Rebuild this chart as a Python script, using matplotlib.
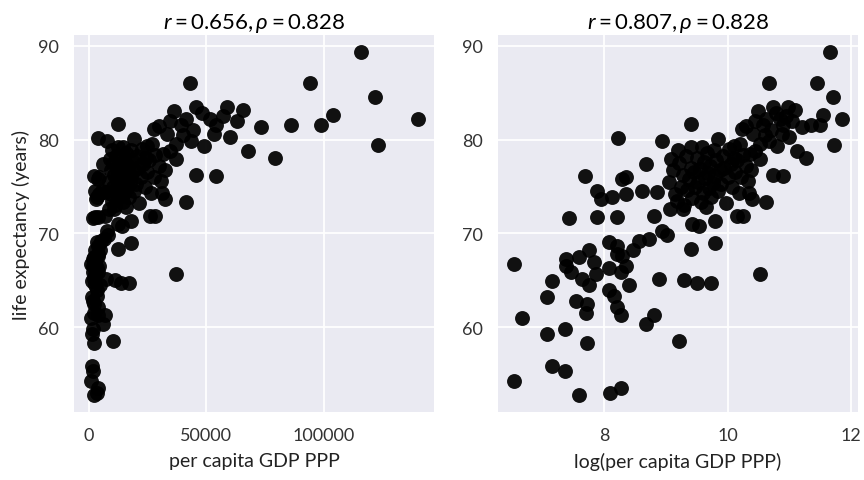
import matplotlib
matplotlib.use("Agg")
import matplotlib.pyplot as plt
import numpy as np

plt.rcParams['font.family'] = ['Lato', 'DejaVu Sans']
plt.rcParams['mathtext.fontset'] = 'custom'
plt.rcParams['mathtext.rm'] = 'Lato'
plt.rcParams['mathtext.it'] = 'Lato:italic'

# log of per capita GDP PPP
log_gdp = [
    8.23, 9.41, 8.94, 8.68, 9.85, 9.41, 10.23, 10.11, 11.66, 10.67,
    11.45, 11.71, 11.85, 11.55, 11.72, 11.28, 11.12, 10.80, 11.00, 11.20,
    11.36, 11.50, 10.50, 10.73, 10.98, 11.09, 10.63, 10.85, 10.30, 10.41,
    10.52, 10.36, 10.52, 10.73, 10.90, 10.63, 10.39, 10.25, 10.52,
    10.70, 10.90, 10.60, 10.78, 10.95, 10.45, 10.88, 10.68, 11.05, 10.58,
    10.35,
    7.69, 7.89, 7.95, 8.13, 8.29, 7.43, 7.89, 8.20, 6.54, 8.08,
    8.20, 8.21, 7.76, 7.59, 7.38, 7.38, 7.84, 7.87, 8.08, 7.15,
    7.46, 7.64, 8.28, 7.07, 6.67, 7.54, 7.72, 7.71, 7.76, 8.08,
    8.16, 8.21, 8.28, 7.07, 7.37, 7.72, 7.15, 7.37, 6.54, 7.59,
    8.10, 8.28, 8.41, 8.89, 9.30, 9.51, 9.74, 8.68, 8.81, 9.22,
    8.36, 8.36, 8.62, 8.85, 8.81, 9.06, 9.27, 9.43, 9.54, 9.79,
    10.16, 8.94, 9.02, 8.73, 8.57, 8.46, 8.29, 9.41, 9.80, 8.36,
    9.05, 9.12, 9.15, 9.18, 9.22, 9.25, 9.28, 9.30, 9.33, 9.35,
    9.38, 9.40, 9.42, 9.45, 9.47, 9.50, 9.52, 9.55, 9.57, 9.60,
    9.62, 9.64, 9.66, 9.68, 9.70, 9.72, 9.74, 9.76, 9.78, 9.80,
    9.82, 9.85, 9.87, 9.90, 9.92, 9.95, 9.97, 10.00, 10.02, 10.05,
    10.08, 10.10, 10.12, 10.15, 10.18, 10.20, 10.22, 10.25, 10.30, 10.33,
    10.38, 10.45, 9.58, 9.20, 9.08, 9.65,
]

life_exp = [
    80.2, 81.7, 79.9, 77.4, 80.1, 79.2, 81.1, 79.3, 89.3, 86.0,
    86.0, 84.5, 82.2, 82.6, 79.4, 78.0, 78.8, 79.3, 80.3, 81.3,
    81.6, 81.6, 83.0, 83.5, 83.5, 83.2, 82.2, 82.2, 81.4, 80.6,
    79.5, 78.5, 77.9, 76.2, 76.1, 73.4, 73.7, 71.9, 65.7,
    81.0, 81.5, 80.5, 82.8, 82.5, 82.0, 80.6, 79.8, 82.0, 81.6,
    74.3,
    76.1, 74.5, 73.7, 73.9, 75.8, 71.6, 71.8, 71.8, 66.7, 69.1,
    68.7, 67.8, 68.2, 67.5, 67.3, 66.5, 67.0, 65.7, 66.3, 64.9,
    65.9, 65.2, 65.9, 63.2, 61.0, 62.8, 62.5, 61.5, 64.5, 64.0,
    63.3, 62.2, 61.3, 59.3, 59.8, 58.3, 55.9, 55.4, 54.3, 52.8,
    53.0, 53.6, 64.5, 65.2, 65.0, 64.7, 64.7, 60.4, 61.3, 58.6,
    76.0, 74.2, 74.5, 74.4, 71.9, 72.6, 72.6, 71.0, 70.8, 71.3,
    71.9, 70.3, 69.8, 69.4, 69.2, 68.2, 67.6, 68.4, 69.0, 66.5,
    75.5, 76.8, 74.2, 73.5, 77.5, 75.0, 76.2, 73.0, 78.2, 74.6,
    75.8, 77.0, 73.8, 76.5, 74.9, 78.0, 75.5, 76.9, 73.4, 74.3,
    77.6, 75.9, 78.6, 76.4, 74.8, 77.2, 73.9, 75.4, 78.9, 76.1,
    77.8, 74.5, 76.8, 75.3, 78.3, 77.0, 73.2, 76.0, 79.0, 77.4,
    75.0, 78.0, 76.5, 77.8, 74.3, 79.5, 76.0, 78.4, 77.2, 75.6,
    76.8, 78.8, 79.2, 78.9, 77.9, 72.8,
]

titles = [r"$r = 0.656, \rho = 0.828$", r"$r = 0.807, \rho = 0.828$"]
xlabels = ["per capita GDP PPP", "log(per capita GDP PPP)"]

gdp = np.exp(np.array(log_gdp))
xs = [gdp, np.array(log_gdp)]

fig, axes = plt.subplots(1, 2, figsize=(8.64, 4.81), dpi=100)
fig.subplots_adjust(left=0.086, right=0.993, bottom=0.141, top=0.925, wspace=0.176)

for ax, x, title, xlabel in zip(axes, xs, titles, xlabels):
    ax.set_facecolor('#eaeaf2')
    for s in ax.spines.values():
        s.set_visible(False)
    ax.grid(True, color='white', linewidth=1.3)
    ax.set_axisbelow(True)
    ax.scatter(x, life_exp, s=115, color='black', alpha=0.93, linewidths=0)
    ax.set_title(title, fontsize=16, pad=5)
    ax.set_xlabel(xlabel, fontsize=14, color='#222222', labelpad=6)
    ax.tick_params(length=0, labelsize=13, colors='#333333', pad=11)
    ax.set_yticks([60, 70, 80, 90])

axes[0].set_xticks([0, 50000, 100000])
axes[1].set_xticks([8, 10, 12])
axes[0].set_ylabel("life expectancy (years)", fontsize=14, color='#222222', labelpad=6)

plt.savefig("out.png", dpi=100)
